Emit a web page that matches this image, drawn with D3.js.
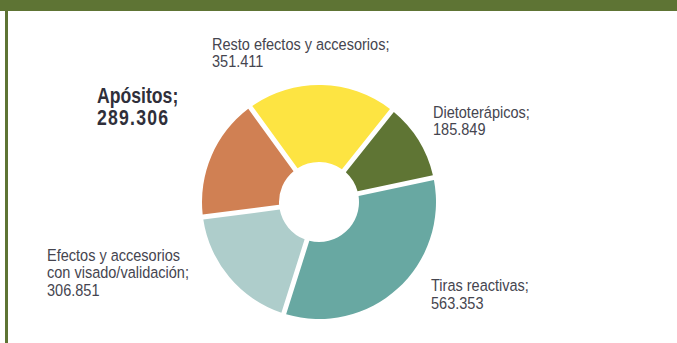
<!DOCTYPE html>
<html lang="es">
	<head>
		<meta charset="utf-8">
		<title>Donut efectos y accesorios</title>
		<script type="text/javascript" src="https://d3js.org/d3.v7.min.js"></script>
		<style type="text/css">
			body { margin: 0; background: #fff; }
			text { font-family: "Liberation Sans", Arial, sans-serif; }
		</style>
	</head>
	<body>
		<script type="text/javascript">

			//Width and height
			var w = 677;
			var h = 343;

			// data, clockwise from the right
			var categories = ["Tiras reactivas", "Efectos y accesorios con visado/validación", "Apósitos", "Resto efectos y accesorios", "Dietoterápicos"];
			var values = [563353, 306851, 289306, 351411, 185849];
			var valueLabels = ["563.353", "306.851", "289.306", "351.411", "185.849"];
			var labelLines = [
				["Tiras reactivas;"],
				["Efectos y accesorios", "con visado/validación;"],
				["Apósitos;"],
				["Resto efectos y accesorios;"],
				["Dietoterápicos;"]
			];

			var colors = ["#68a8a2", "#aecdcb", "#d08053", "#fde442", "#5f7534"];

			var cx = 319, cy = 202;

			var svg = d3.select("body")
						.append("svg")
						.attr("width", w)
						.attr("height", h);

			// green frame
			svg.append("rect")
				.attr("x", 0).attr("y", 0)
				.attr("width", w).attr("height", 11)
				.attr("fill", "#5e7434");
			svg.append("rect")
				.attr("x", 5).attr("y", 0)
				.attr("width", 3).attr("height", h)
				.attr("fill", "#5e7434");

			var start = 78 * Math.PI / 180;
			var pie = d3.pie()
				.sort(null)
				.startAngle(start)
				.endAngle(start + 2 * Math.PI);

			var arc = d3.arc()
				.innerRadius(40)
				.outerRadius(117)
				.padAngle(0.04);

			var g = svg.append("g")
				.attr("transform", "translate(" + cx + "," + cy + ")");

			g.selectAll("path")
				.data(pie(values))
				.enter()
				.append("path")
				.attr("d", arc)
				.attr("fill", function(d, i) { return colors[i]; });

			// label positions (x, first baseline, line step, bold)
			var labelPos = [
				[431, 291, 18, false],
				[47, 261, 17.5, false],
				[97, 103, 22, true],
				[212, 50, 17, false],
				[433, 118, 17, false]
			];

			labelLines.forEach(function(lines, i) {
				var p = labelPos[i];
				var t = svg.append("text")
					.attr("transform", "translate(" + p[0] + "," + p[1] + ") scale(" + (p[3] ? 0.82 : 0.88) + ",1)")
					.attr("fill", p[3] ? "#2f2f3a" : "#45454f")
					.attr("font-size", p[3] ? 21.5 : 16.5)
					.attr("font-weight", p[3] ? "bold" : "normal");
				lines.concat([valueLabels[i]]).forEach(function(s, j) {
					t.append("tspan")
						.attr("x", 0)
						.attr("dy", j === 0 ? 0 : p[2])
						.attr("letter-spacing", (p[3] && j === lines.length) ? 1.5 : null)
						.text(s);
				});
			});

		</script>
	</body>
</html>
